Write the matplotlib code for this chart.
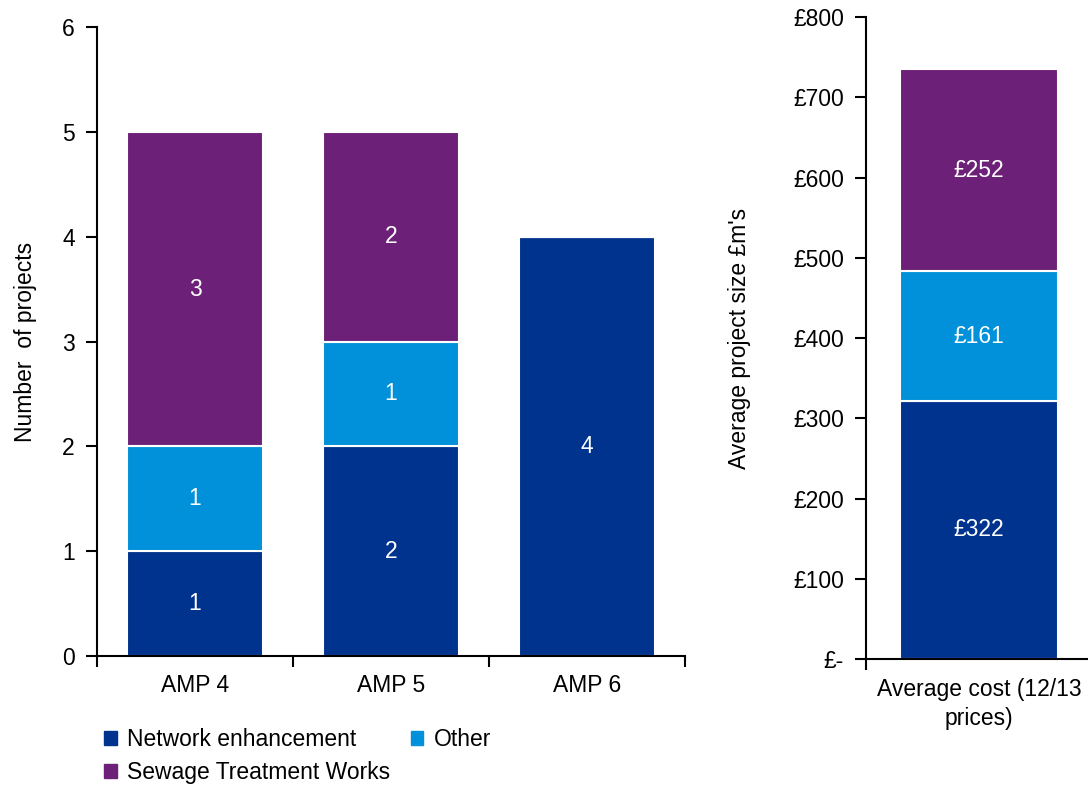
import matplotlib.pyplot as plt
import matplotlib.ticker as mticker
from matplotlib.patches import Patch
import numpy as np

plt.rcParams['font.family'] = ['Liberation Sans', 'DejaVu Sans']

# data
periods = ['AMP 4', 'AMP 5', 'AMP 6']
network = [1, 2, 4]
other = [1, 1, 0]
sewage = [3, 2, 0]

cost_label = ['Average cost (12/13\nprices)']
cost_network = [322]
cost_other = [161]
cost_sewage = [252]

c_net = '#00338D'
c_oth = '#0091DA'
c_sew = '#6D2077'

fs = 16.5

fig = plt.figure(figsize=(10.88, 7.85), dpi=100)

# left chart: number of projects
ax = fig.add_axes([0.0892, 0.1643, 0.5404, 0.8013])
x = np.arange(len(periods))
w = 0.69
net = np.array(network)
oth = np.array(other)
sew = np.array(sewage)
b1 = ax.bar(x, net, w, color=c_net, edgecolor='white', linewidth=1.5)
b2 = ax.bar(x, oth, w, bottom=net, color=c_oth, edgecolor='white', linewidth=1.5)
b3 = ax.bar(x, sew, w, bottom=net + oth, color=c_sew, edgecolor='white', linewidth=1.5)
for bars, vals in [(b1, net), (b2, oth), (b3, sew)]:
    for rect, v in zip(bars, vals):
        if v > 0:
            ax.text(rect.get_x() + rect.get_width() / 2, rect.get_y() + rect.get_height() / 2,
                    str(v), ha='center', va='center', color='white', fontsize=fs)

ax.set_xlim(-0.5, len(periods) - 0.5)
ax.set_ylim(0, 6)
ax.set_yticks(range(7))
ax.set_xticks(x)
ax.set_xticklabels(periods)
ax.set_xticks(np.arange(-0.5, len(periods)), minor=True)
ax.tick_params(axis='x', which='major', length=0, pad=13, labelsize=fs)
ax.tick_params(axis='x', which='minor', length=8, width=1.5, direction='out')
ax.tick_params(axis='y', length=8, width=1.5, direction='out', labelsize=fs, pad=8)
ax.set_ylabel('Number  of projects', fontsize=fs, labelpad=18)
for s in ['top', 'right']:
    ax.spines[s].set_visible(False)
for s in ['left', 'bottom']:
    ax.spines[s].set_linewidth(1.5)

handles = [Patch(color=c_net, label='Network enhancement'),
           Patch(color=c_sew, label='Sewage Treatment Works'),
           Patch(color=c_oth, label='Other')]
fig.legend(handles=handles, ncol=2, loc='upper left', bbox_to_anchor=(0.085, 0.087),
           frameon=False, fontsize=fs, handlelength=0.55, handleheight=0.55,
           handletextpad=0.45, columnspacing=0.9, labelspacing=0.45, borderpad=0)

# right chart: average cost
ax2 = fig.add_axes([0.796, 0.1605, 0.2077, 0.8178])
cn = np.array(cost_network)
co = np.array(cost_other)
cs = np.array(cost_sewage)
x2 = np.arange(len(cost_label))
w2 = 0.7
r1 = ax2.bar(x2, cn, w2, color=c_net, edgecolor='white', linewidth=1.5)
r2 = ax2.bar(x2, co, w2, bottom=cn, color=c_oth, edgecolor='white', linewidth=1.5)
r3 = ax2.bar(x2, cs, w2, bottom=cn + co, color=c_sew, edgecolor='white', linewidth=1.5)
for bars, vals in [(r1, cn), (r2, co), (r3, cs)]:
    for rect, v in zip(bars, vals):
        ax2.text(rect.get_x() + rect.get_width() / 2, rect.get_y() + rect.get_height() / 2,
                 '£%d' % v, ha='center', va='center', color='white', fontsize=fs)

ax2.set_xlim(-0.5, 0.5)
ax2.set_ylim(0, 800)
ax2.set_yticks(range(0, 801, 100))
ax2.yaxis.set_major_formatter(mticker.FuncFormatter(lambda v, p: '£-' if v == 0 else '£%d' % v))
ax2.set_xticks(x2)
ax2.set_xticklabels(cost_label, linespacing=1.3)
ax2.set_xticks([-0.5], minor=True)
ax2.tick_params(axis='x', which='major', length=0, pad=14, labelsize=fs)
ax2.tick_params(axis='x', which='minor', length=8, width=1.5, direction='out')
ax2.tick_params(axis='y', length=8, width=1.5, direction='out', labelsize=fs, pad=8)
ax2.set_ylabel("Average project size £m's", fontsize=fs, labelpad=30)
for s in ['top', 'right']:
    ax2.spines[s].set_visible(False)
for s in ['left', 'bottom']:
    ax2.spines[s].set_linewidth(1.5)

fig.savefig('out.png', dpi=100)
